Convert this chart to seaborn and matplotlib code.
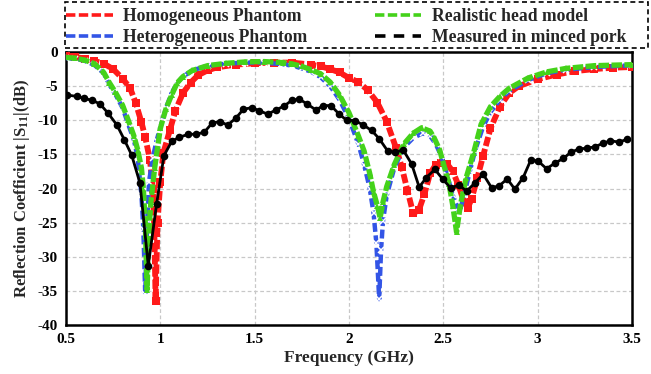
import numpy as np
import pandas as pd
import matplotlib
matplotlib.use("Agg")
import matplotlib.pyplot as plt
import seaborn as sns
from matplotlib.lines import Line2D
from matplotlib.patches import Rectangle

# ---------------- data ----------------
f_homo = [0.50, 0.55, 0.60, 0.65, 0.70, 0.75, 0.80, 0.84, 0.87, 0.90, 0.92, 0.945, 0.96, 0.968,
          0.975, 0.985, 1.00, 1.016, 1.05, 1.08, 1.12, 1.16, 1.20, 1.25, 1.30, 1.40, 1.50, 1.60,
          1.70, 1.80, 1.85, 1.90, 1.95, 2.00, 2.05, 2.10, 2.15, 2.20, 2.25, 2.28, 2.31, 2.34,
          2.37, 2.40, 2.43, 2.46, 2.49, 2.52, 2.55, 2.58, 2.61, 2.63, 2.65, 2.68, 2.71, 2.75,
          2.80, 2.85, 2.90, 3.00, 3.10, 3.20, 3.30, 3.40, 3.50]
s_homo = [-0.5, -0.7, -1.0, -1.3, -1.7, -2.5, -3.9, -5.3, -7.5, -10.3, -12.5, -15.8, -20.0, -26.0,
          -36.5, -25.0, -19.0, -14.8, -11.5, -8.6, -6.0, -4.5, -3.4, -2.7, -2.25, -1.85, -1.65, -1.55,
          -1.55, -1.85, -2.1, -2.5, -3.0, -3.8, -4.4, -5.6, -7.4, -10.2, -14.1, -16.9, -20.3, -23.6,
          -23.2, -20.8, -17.8, -16.5, -16.2, -16.4, -17.5, -19.5, -22.0, -22.8, -21.5, -18.5, -15.3, -11.2,
          -8.0, -6.0, -5.0, -4.0, -3.3, -2.8, -2.5, -2.3, -2.2]

f_hetero = [0.50, 0.55, 0.60, 0.65, 0.70, 0.73, 0.76, 0.80, 0.83, 0.86, 0.88, 0.90, 0.91, 0.92,
            0.93, 0.94, 0.96, 0.98, 1.00, 1.03, 1.06, 1.09, 1.12, 1.17, 1.25, 1.35, 1.45, 1.55,
            1.65, 1.70, 1.75, 1.80, 1.85, 1.90, 1.95, 2.00, 2.05, 2.08, 2.11, 2.13, 2.145, 2.16,
            2.17, 2.18, 2.20, 2.24, 2.29, 2.34, 2.39, 2.43, 2.46, 2.49, 2.52, 2.55, 2.585, 2.61,
            2.64, 2.67, 2.71, 2.75, 2.80, 2.85, 2.95, 3.05, 3.15, 3.30, 3.50]
s_hetero = [-0.9, -1.0, -1.3, -1.9, -3.1, -4.8, -6.1, -8.2, -10.6, -12.9, -15.5, -21.0, -26.0, -35.5,
            -25.0, -19.0, -15.5, -13.0, -11.0, -8.2, -6.0, -4.5, -3.6, -2.7, -2.0, -1.7, -1.55, -1.55,
            -1.8, -2.0, -2.4, -2.9, -3.7, -5.0, -7.0, -9.8, -13.5, -16.5, -20.0, -23.6, -28.0, -36.2,
            -29.0, -24.8, -21.0, -17.0, -14.0, -12.6, -11.9, -12.3, -13.5, -15.3, -18.0, -21.0, -23.5, -21.0,
            -17.5, -14.3, -11.0, -8.8, -7.0, -5.7, -4.1, -3.1, -2.6, -2.2, -1.95]

f_real = [0.50, 0.55, 0.60, 0.65, 0.70, 0.73, 0.76, 0.80, 0.83, 0.86, 0.88, 0.90, 0.91, 0.92,
          0.93, 0.94, 0.95, 0.97, 1.00, 1.03, 1.06, 1.09, 1.12, 1.17, 1.25, 1.35, 1.45, 1.55,
          1.65, 1.70, 1.75, 1.80, 1.85, 1.90, 1.95, 2.00, 2.05, 2.08, 2.11, 2.13, 2.15, 2.165,
          2.18, 2.20, 2.24, 2.29, 2.34, 2.385, 2.43, 2.45, 2.48, 2.50, 2.53, 2.55, 2.57, 2.59,
          2.62, 2.66, 2.70, 2.75, 2.80, 2.85, 2.95, 3.05, 3.15, 3.30, 3.50]
s_real = [-0.8, -0.9, -1.2, -1.7, -3.0, -4.5, -5.8, -7.8, -10.0, -12.3, -14.3, -17.0, -20.0, -25.0,
          -34.8, -26.0, -22.0, -17.0, -11.2, -8.3, -6.3, -4.5, -3.6, -2.7, -2.0, -1.65, -1.45, -1.4,
          -1.55, -1.75, -2.1, -2.6, -3.2, -4.4, -6.3, -8.9, -12.3, -14.5, -17.8, -20.5, -22.5, -24.3,
          -22.0, -19.7, -16.5, -13.5, -11.9, -11.1, -11.6, -12.5, -14.3, -16.3, -19.3, -22.5, -26.4, -22.5,
          -18.5, -14.8, -10.6, -8.0, -6.5, -5.3, -3.8, -2.9, -2.4, -2.0, -1.85]

f_meas = [0.503, 0.557, 0.597, 0.640, 0.680, 0.724, 0.770, 0.810, 0.848, 0.892, 0.936, 0.980,
          1.019, 1.060, 1.100, 1.148, 1.190, 1.233, 1.275, 1.316, 1.357, 1.400, 1.440, 1.484,
          1.524, 1.569, 1.613, 1.657, 1.696, 1.736, 1.780, 1.825, 1.864, 1.904, 1.948, 1.987,
          2.030, 2.076, 2.120, 2.160, 2.205, 2.243, 2.287, 2.332, 2.372, 2.410, 2.455, 2.496,
          2.538, 2.584, 2.623, 2.667, 2.711, 2.756, 2.796, 2.839, 2.879, 2.923, 2.964, 3.003,
          3.047, 3.091, 3.135, 3.176, 3.219, 3.259, 3.303, 3.344, 3.386, 3.430, 3.474]
s_meas = [-6.3, -6.5, -6.8, -7.1, -7.6, -9.0, -10.7, -12.9, -15.1, -19.2, -31.3, -22.3,
          -15.2, -13.1, -12.5, -12.05, -12.05, -11.75, -10.4, -10.2, -10.7, -9.7, -8.4, -8.15,
          -8.6, -9.1, -8.5, -7.9, -7.1, -6.9, -7.65, -8.5, -7.85, -7.85, -9.1, -10.0,
          -10.05, -10.7, -11.5, -12.7, -14.5, -14.7, -14.35, -16.4, -19.8, -18.4, -17.2, -18.6,
          -19.9, -19.5, -20.4, -19.2, -17.9, -19.9, -19.6, -18.6, -20.1, -18.4, -15.8, -16.0,
          -17.1, -16.3, -15.6, -14.7, -14.2, -14.1, -13.9, -13.4, -13.0, -13.2, -12.8]

labels = ["Homogeneous Phantom", "Heterogeneous Phantom", "Realistic head model", "Measured in minced pork"]
x_ticks = [0.5, 1, 1.5, 2, 2.5, 3, 3.5]
x_tick_labels = ["0.5", "1", "1.5", "2", "2.5", "3", "3.5"]
y_ticks = [0, -5, -10, -15, -20, -25, -30, -35, -40]
y_tick_labels = ["0", "-5", "-10", "-15", "-20", "-25", "-30", "-35", "-40"]

# ---------------- style ----------------
sns.set_theme(style="white")
plt.rcParams["font.family"] = ["Liberation Serif", "DejaVu Serif"]
plt.rcParams["font.weight"] = "bold"
plt.rcParams["mathtext.fontset"] = "custom"
plt.rcParams["mathtext.rm"] = "Liberation Serif:bold"
plt.rcParams["mathtext.it"] = "Liberation Serif:bold"
plt.rcParams["mathtext.bf"] = "Liberation Serif:bold"

W, H = 651, 374
fig = plt.figure(figsize=(W / 100, H / 100), dpi=100)
ax = fig.add_axes([66 / W, 49 / H, 566 / W, 273 / H])

RED = "#FF1A1A"
BLUE = "#3355E6"
GREEN = "#44D21A"

df_homo = pd.DataFrame({"f": f_homo, "s": s_homo})
df_het = pd.DataFrame({"f": f_hetero, "s": s_hetero})
df_real = pd.DataFrame({"f": f_real, "s": s_real})
df_meas = pd.DataFrame({"f": f_meas, "s": s_meas})

sns.lineplot(data=df_homo, x="f", y="s", ax=ax, color=RED, lw=4.2, estimator=None,
             marker="s", markersize=5.5, markeredgewidth=0, linestyle=(0, (1.6, 0.5)), zorder=3)
sns.lineplot(data=df_het, x="f", y="s", ax=ax, color=BLUE, lw=3.2, estimator=None,
             marker="x", markersize=4, markeredgewidth=1.1, linestyle=(0, (2.0, 0.8)), zorder=4)
sns.lineplot(data=df_real, x="f", y="s", ax=ax, color=GREEN, lw=3.8, estimator=None,
             marker="^", markersize=4, markeredgewidth=0, linestyle=(0, (2.0, 0.45)), zorder=5)
sns.lineplot(data=df_meas, x="f", y="s", ax=ax, color="black", lw=2.0, estimator=None,
             marker="o", markersize=5.5, markeredgewidth=0, linestyle="-", zorder=6)

ax.set_xlim(0.5, 3.5)
ax.set_ylim(-40, 0)
ax.set_xticks(x_ticks)
ax.set_xticklabels(x_tick_labels, fontsize=11, fontweight="bold")
ax.set_yticks(y_ticks)
ax.set_yticklabels(y_tick_labels, fontsize=11, fontweight="bold")
ax.tick_params(axis="both", length=0, pad=6, colors="black")
ax.grid(True, color="#C8C8C8", linestyle=(0, (3, 2)), lw=0.9)
ax.set_axisbelow(True)
for sp in ax.spines.values():
    sp.set_color("black")
    sp.set_linewidth(1.8)

ax.set_xlabel("Frequency (GHz)", fontsize=12.5, fontweight="bold", labelpad=3)
ax.set_ylabel(r"Reflection Coefficient |S$_{11}$|(dB)", fontsize=12, fontweight="bold", labelpad=4)

handles = [
    Line2D([], [], color=RED, lw=2.6, linestyle=(0, (2.6, 0.95))),
    Line2D([], [], color=BLUE, lw=2.6, linestyle=(0, (2.6, 0.95))),
    Line2D([], [], color=GREEN, lw=2.6, linestyle=(0, (2.6, 0.95))),
    Line2D([], [], color="black", lw=2.6, linestyle=(0, (2.9, 2.3))),
]
leg = fig.legend(handles, labels, ncol=2, loc="upper left",
                 bbox_to_anchor=(66 / W, (H - 8) / H), bbox_transform=fig.transFigure,
                 frameon=False, borderaxespad=0, borderpad=0,
                 prop={"family": "Liberation Serif", "weight": "bold", "size": 12.7},
                 handlelength=2.65, handletextpad=0.6, labelspacing=0.25,
                 columnspacing=3.8)

# dashed legend box
fig.patches.append(Rectangle((65 / W, (H - 48) / H), 583 / W, 46 / H, transform=fig.transFigure,
                             fill=False, edgecolor="black", lw=1.2, linestyle=(0, (3, 2)),
                             figure=fig))

fig.savefig("out.png", dpi=100)
